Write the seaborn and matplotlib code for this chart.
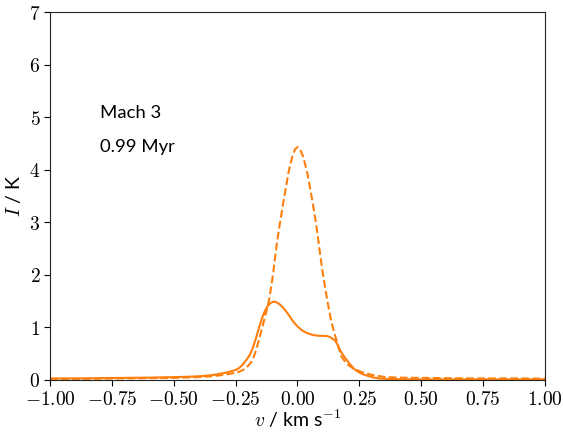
import matplotlib
matplotlib.use("Agg")
import matplotlib.pyplot as plt
from matplotlib.ticker import FuncFormatter, MultipleLocator
import pandas as pd
import seaborn as sns

# Line profile, full radiative transfer (solid)
v_solid = [-1.00, -0.90, -0.80, -0.70, -0.60, -0.50, -0.45, -0.40, -0.35, -0.31,
           -0.28, -0.25, -0.235, -0.22, -0.205, -0.19, -0.18, -0.17, -0.16,
           -0.15, -0.14, -0.13, -0.12, -0.11, -0.10, -0.091, -0.083, -0.072,
           -0.057, -0.045, -0.03, -0.017, 0.00, 0.012, 0.023, 0.04, 0.06, 0.077,
           0.09, 0.104, 0.12, 0.13, 0.14, 0.152, 0.162, 0.172, 0.185, 0.199,
           0.212, 0.225, 0.24, 0.255, 0.27, 0.29, 0.31, 0.33, 0.36, 0.40, 0.50,
           0.60, 0.70, 0.80, 0.90, 1.00]
I_solid = [0.03, 0.03, 0.035, 0.04, 0.045, 0.055, 0.06, 0.07, 0.09, 0.12,
           0.15, 0.19, 0.23, 0.30, 0.39, 0.50, 0.62, 0.76, 0.92,
           1.08, 1.22, 1.33, 1.41, 1.46, 1.485, 1.49, 1.475, 1.44,
           1.37, 1.30, 1.20, 1.11, 1.02, 0.97, 0.93, 0.89, 0.86, 0.845,
           0.84, 0.84, 0.835, 0.82, 0.79, 0.75, 0.67, 0.57, 0.47, 0.38,
           0.30, 0.23, 0.17, 0.13, 0.10, 0.07, 0.045, 0.03, 0.02, 0.015, 0.012,
           0.012, 0.012, 0.012, 0.012, 0.012]

# Optically thin profile (dashed)
v_dash = [-1.00, -0.90, -0.80, -0.70, -0.60, -0.50, -0.40, -0.35, -0.31, -0.27,
          -0.24, -0.22, -0.205, -0.19, -0.178, -0.168, -0.158, -0.148, -0.138,
          -0.126, -0.114, -0.106, -0.098, -0.091, -0.084, -0.071, -0.060, -0.048,
          -0.037, -0.029, -0.021, -0.010, 0.00, 0.010, 0.023, 0.031, 0.040, 0.052,
          0.064, 0.075, 0.084, 0.093, 0.102, 0.111, 0.120, 0.129, 0.138, 0.148,
          0.158, 0.168, 0.178, 0.20, 0.225, 0.26, 0.306, 0.35, 0.40, 0.50, 0.60,
          0.70, 0.80, 0.90, 1.00]
I_dash = [0.02, 0.02, 0.025, 0.03, 0.035, 0.04, 0.055, 0.07, 0.09, 0.12,
          0.15, 0.19, 0.24, 0.32, 0.42, 0.56, 0.72, 0.90, 1.08,
          1.30, 1.54, 1.78, 2.04, 2.31, 2.58, 2.98, 3.30, 3.63,
          3.93, 4.10, 4.25, 4.39, 4.43, 4.39, 4.25, 4.10, 3.93, 3.62,
          3.30, 2.98, 2.66, 2.34, 2.04, 1.78, 1.52, 1.30, 1.08, 0.91,
          0.75, 0.58, 0.44, 0.30, 0.22, 0.15, 0.09, 0.06,
          0.045, 0.04, 0.035, 0.03, 0.03, 0.03, 0.025]

sns.set_style("ticks")
plt.rcParams["font.family"] = ["Lato", "DejaVu Sans"]
plt.rcParams["mathtext.fontset"] = "cm"
plt.rcParams["text.color"] = "black"
plt.rcParams["axes.labelcolor"] = "black"
plt.rcParams["xtick.color"] = "black"
plt.rcParams["ytick.color"] = "black"

orange = "#ff7f0e"

fig = plt.figure(figsize=(5.63, 4.32), dpi=100)
ax = fig.add_axes([0.0888, 0.1204, 0.8792, 0.8518])

df_solid = pd.DataFrame({"v": v_solid, "I": I_solid})
df_dash = pd.DataFrame({"v": v_dash, "I": I_dash})
sns.lineplot(data=df_solid, x="v", y="I", ax=ax, color=orange, lw=1.5, sort=False)
sns.lineplot(data=df_dash, x="v", y="I", ax=ax, color=orange, lw=1.5, ls="--",
             sort=False)

ax.set_xlim(-1, 1)
ax.set_ylim(0, 7)
ax.xaxis.set_major_locator(MultipleLocator(0.25))
ax.yaxis.set_major_locator(MultipleLocator(1))
ax.xaxis.set_major_formatter(FuncFormatter(lambda x, _: f"${x:.2f}$"))
ax.yaxis.set_major_formatter(FuncFormatter(lambda y, _: f"${y:.0f}$"))
ax.tick_params(labelsize=14, direction="out", length=4, width=0.8, pad=3)

for s in ax.spines.values():
    s.set_visible(True)
    s.set_linewidth(0.8)
    s.set_color("#222222")

ax.set_xlabel(r"$v$ / km s$^{-1}$", fontsize=14, labelpad=0)
ax.set_ylabel(r"$I$ / K", fontsize=14, labelpad=4)

ax.text(0.101, 0.711, "Mach 3", transform=ax.transAxes, fontsize=13.3)
ax.text(0.101, 0.620, "0.99 Myr", transform=ax.transAxes, fontsize=13.3)

fig.savefig("out.png", dpi=100)
